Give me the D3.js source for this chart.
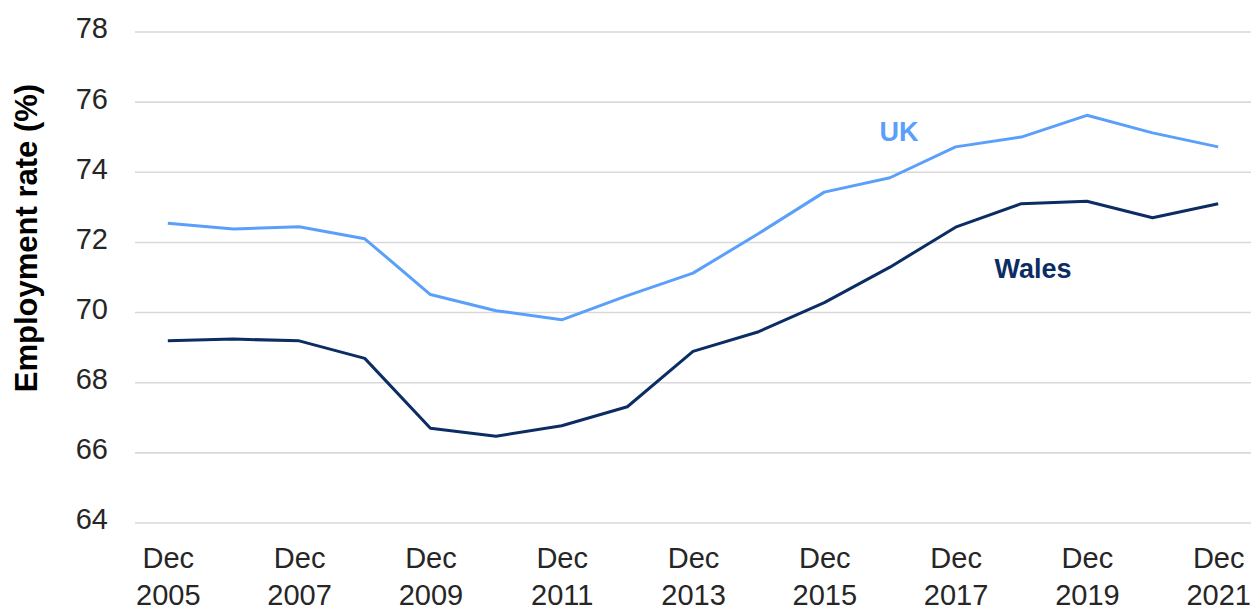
<!DOCTYPE html>
<html>
<head>
<meta charset="utf-8">
<script src="https://cdn.jsdelivr.net/npm/d3@7"></script>
<style>
body{margin:0;background:#fff;}
text{font-family:Arial,"Liberation Sans",sans-serif;}
</style>
</head>
<body>
<script>
// years (Dec of each year)
var years=[2005,2006,2007,2008,2009,2010,2011,2012,2013,2014,2015,2016,2017,2018,2019,2020,2021];
var ukRate=[72.53,72.37,72.43,72.09,70.5,70.04,69.78,70.47,71.11,72.24,73.42,73.83,74.71,74.99,75.61,75.11,74.71];
var walesRate=[69.18,69.23,69.18,68.68,66.69,66.46,66.76,67.3,68.88,69.44,70.27,71.28,72.42,73.09,73.16,72.69,73.09];
var yTicks=[64,66,68,70,72,74,76,78];
var xLabelYears=[2005,2007,2009,2011,2013,2015,2017,2019,2021];

var width=1252;
var height=609;
var margin={top:31.5, right:1, bottom:86.5, left:135};

var svg=d3.select("body")
    .append("svg")
    .attr("width",width)
    .attr("height",height);

var x=d3.scalePoint()
    .domain(years)
    .range([margin.left,width-margin.right])
    .padding(0.5);

var y=d3.scaleLinear()
    .domain([64,78])
    .range([height-margin.bottom,margin.top]);

// gridlines + y labels
var yAxis=svg.append("g")
    .attr("transform","translate("+margin.left+",0)")
    .call(d3.axisLeft(y)
        .tickValues(yTicks)
        .tickSize(-(width-margin.left-margin.right))
        .tickPadding(27)
        .tickFormat(d3.format("d")));
yAxis.select(".domain").remove();
yAxis.selectAll(".tick line")
    .attr("stroke","#d9d9d9")
    .attr("stroke-width",1.6);
yAxis.selectAll(".tick text")
    .attr("fill","#262626")
    .attr("font-size","29px")
    .attr("dy","0.22em");

// x labels, two lines
var xAxis=svg.append("g")
    .attr("transform","translate(0,"+(height-margin.bottom)+")")
    .call(d3.axisBottom(x).tickValues(xLabelYears).tickSize(0));
xAxis.select(".domain").remove();
xAxis.selectAll(".tick text").remove();
xAxis.selectAll(".tick").append("text")
    .attr("fill","#262626")
    .attr("font-size","29px")
    .attr("text-anchor","middle")
    .each(function(d){
        var t=d3.select(this);
        t.append("tspan").attr("x",0).attr("y",45).text("Dec");
        t.append("tspan").attr("x",0).attr("y",82).text(d);
    });

var line=d3.line()
    .x(function(d,i){return x(years[i]);})
    .y(function(d){return y(d);});

svg.append("path")
    .datum(ukRate)
    .attr("fill","none")
    .attr("stroke","#5AA0FA")
    .attr("stroke-width",3)
    .attr("stroke-linejoin","round")
    .attr("d",line);

svg.append("path")
    .datum(walesRate)
    .attr("fill","none")
    .attr("stroke","#0B2D63")
    .attr("stroke-width",3)
    .attr("stroke-linejoin","round")
    .attr("d",line);

// series labels
svg.append("text")
    .attr("x",899)
    .attr("y",141)
    .attr("text-anchor","middle")
    .attr("font-size","27px")
    .attr("font-weight","bold")
    .attr("fill","#5AA0FA")
    .text("UK");

svg.append("text")
    .attr("x",1033)
    .attr("y",278)
    .attr("text-anchor","middle")
    .attr("font-size","27px")
    .attr("font-weight","bold")
    .attr("fill","#0B2D63")
    .text("Wales");

// y axis title
svg.append("text")
    .attr("transform","translate(37,238) rotate(-90)")
    .attr("text-anchor","middle")
    .attr("font-size","31px")
    .attr("font-weight","bold")
    .attr("fill","#000")
    .text("Employment rate (%)");
</script>
</body>
</html>
